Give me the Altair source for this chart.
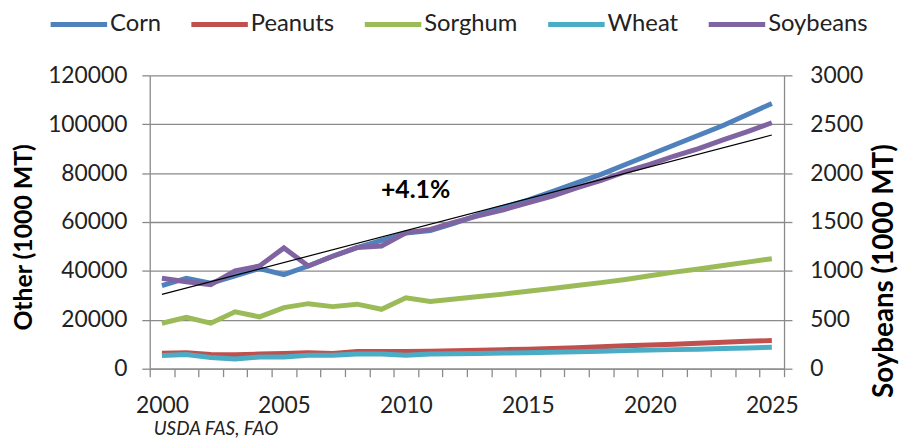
import altair as alt
import pandas as pd

years = list(range(2000, 2026))
corn = [34000, 37000, 35000, 38000, 41000, 38500, 42000, 46000, 49500, 52500,
        55500, 56500, 59500, 63000, 66000, 69000, 72500, 76000, 79500, 83500,
        87500, 91500, 95500, 99500, 104000, 108500]
peanuts = [6300, 6500, 5800, 5700, 6000, 6200, 6500, 6200, 7000, 7000,
           7000, 7200, 7400, 7600, 7800, 8000, 8300, 8600, 9000, 9400,
           9700, 10000, 10400, 10800, 11200, 11500]
sorghum = [18600, 21000, 18600, 23300, 21200, 25000, 26600, 25400, 26400, 24300,
           29000, 27500, 28500, 29500, 30500, 31700, 32800, 34000, 35200, 36500,
           38000, 39500, 40800, 42200, 43600, 45000]
wheat = [5400, 5800, 4600, 4000, 4800, 4800, 5500, 5500, 6000, 6000,
         5500, 6000, 6100, 6200, 6400, 6500, 6700, 6900, 7100, 7400,
         7600, 7800, 8000, 8300, 8500, 8800]
soybeans = [925, 890, 860, 1000, 1050, 1235, 1050, 1150, 1240, 1255,
            1390, 1425, 1500, 1565, 1625, 1695, 1765, 1850, 1925, 2015,
            2090, 2175, 2250, 2340, 2425, 2515]

series_names = ["Corn", "Peanuts", "Sorghum", "Wheat", "Soybeans"]
series_colors = ["#4F81BD", "#C0504D", "#9BBB59", "#4BACC6", "#8064A2"]
left_ticks = [0, 20000, 40000, 60000, 80000, 100000, 120000]
right_ticks = [0, 500, 1000, 1500, 2000, 2500, 3000]
x_labels = [2000, 2005, 2010, 2015, 2020, 2025]
trend_years = [2000, 2025]
trend_soy = [760, 2390]
annot_text = ["+4.1%"]
annot_year = [2010.4]
annot_value = [73000]
source_text = ["USDA FAS, FAO"]

rows = []
for name, vals in zip(series_names[:4], [corn, peanuts, sorghum, wheat]):
    for yr, v in zip(years, vals):
        rows.append({"year": yr, "series": name, "value": v})
left_df = pd.DataFrame(rows)
soy_df = pd.DataFrame({"year": years, "series": "Soybeans", "soy": soybeans})
trend_df = pd.DataFrame({"year": trend_years, "soy": trend_soy})
annot_df = pd.DataFrame({"year": annot_year, "value": annot_value, "t": annot_text})
source_df = pd.DataFrame({"t": source_text})

FONT = "Lato"
GRID = "#8a8a8a"
LABEL = "#222222"
W, H = 640, 296
band = W / 26.0

x_scale = alt.Scale(domain=[1999.5, 2025.5], nice=False, zero=False)
x_axis = alt.Axis(
    values=[1999.5 + i for i in range(27)],
    labelExpr=f"indexof({x_labels}, datum.value + 0.5) >= 0 ? toString(datum.value + 0.5) : ''",
    labelOffset=band / 2, labelOverlap=False, labelBound=False, labelFlush=False,
    title=None, grid=False, tickSize=8, tickColor=GRID, tickWidth=1.3,
    domainColor=GRID, domainWidth=1.3, labelFont=FONT, labelFontSize=23,
    labelColor=LABEL, labelPadding=18,
)
x_enc = alt.X("year:Q", scale=x_scale, axis=x_axis)

color_enc = alt.Color(
    "series:N",
    scale=alt.Scale(domain=series_names, range=series_colors),
    legend=alt.Legend(
        orient="none", legendX=-103, legendY=-83, direction="horizontal", columns=5,
        title=None, symbolType="stroke", symbolSize=3250, symbolStrokeWidth=5,
        labelFont=FONT, labelFontSize=24, labelColor=LABEL, columnPadding=19,
        labelOffset=0, padding=0,
    ),
)

left_y = alt.Y(
    "value:Q",
    scale=alt.Scale(domain=[0, 120000], nice=False),
    axis=alt.Axis(
        values=left_ticks, format="d", title="Other (1000 MT)", grid=True,
        gridColor=GRID, gridWidth=1.3, tickSize=8, tickColor=GRID, tickWidth=1.3,
        domainColor=GRID, domainWidth=1.3, labelFont=FONT, labelFontSize=23,
        labelColor=LABEL, labelPadding=15, titleFont=FONT, titleFontSize=25,
        titleFontWeight="bold", titleColor="#000000", titleAngle=270,
        titleX=-127, titleY=163, titleAlign="center", titleBaseline="middle",
    ),
)

left_lines = alt.Chart(left_df).mark_line(strokeWidth=5).encode(
    x=x_enc, y=left_y, color=color_enc, order="year:Q"
)
annot = alt.Chart(annot_df).mark_text(
    font=FONT, fontSize=25, fontWeight="bold", color="#000000",
    align="center", baseline="middle"
).encode(x=x_enc, y=left_y, text="t:N")
source = alt.Chart(source_df).mark_text(
    font=FONT, fontSize=19, fontStyle="italic", color=LABEL,
    align="left", baseline="alphabetic"
).encode(x=alt.value(4), y=alt.value(363), text="t:N")

left_group = alt.layer(left_lines, annot, source)

right_y = alt.Y(
    "soy:Q",
    scale=alt.Scale(domain=[0, 3000], nice=False),
    axis=alt.Axis(
        orient="right", values=right_ticks, format="d", title="Soybeans (1000 MT)",
        grid=False, tickSize=8, tickColor=GRID, tickWidth=1.3,
        domainColor=GRID, domainWidth=1.3, labelFont=FONT, labelFontSize=23,
        labelColor=LABEL, labelPadding=18, titleFont=FONT, titleFontSize=28,
        titleFontWeight="bold", titleColor="#000000", titleAngle=270,
        titleX=101, titleY=197, titleAlign="center", titleBaseline="middle",
    ),
)
soy_line = alt.Chart(soy_df).mark_line(strokeWidth=5).encode(
    x=x_enc, y=right_y, color=color_enc, order="year:Q"
)
trend = alt.Chart(trend_df).mark_line(strokeWidth=1.2, color="#000000").encode(
    x=x_enc, y=right_y,
)
right_group = alt.layer(soy_line, trend)

chart = alt.layer(left_group, right_group).resolve_scale(
    y="independent"
).properties(
    width=W, height=H,
    autosize=alt.AutoSizeParams(type="none"),
    padding={"left": 143, "top": 66, "right": 116, "bottom": 71},
    background="#ffffff",
).configure_view(strokeWidth=0)

chart.save("out.html", embed_options={"renderer": "svg", "actions": False})
